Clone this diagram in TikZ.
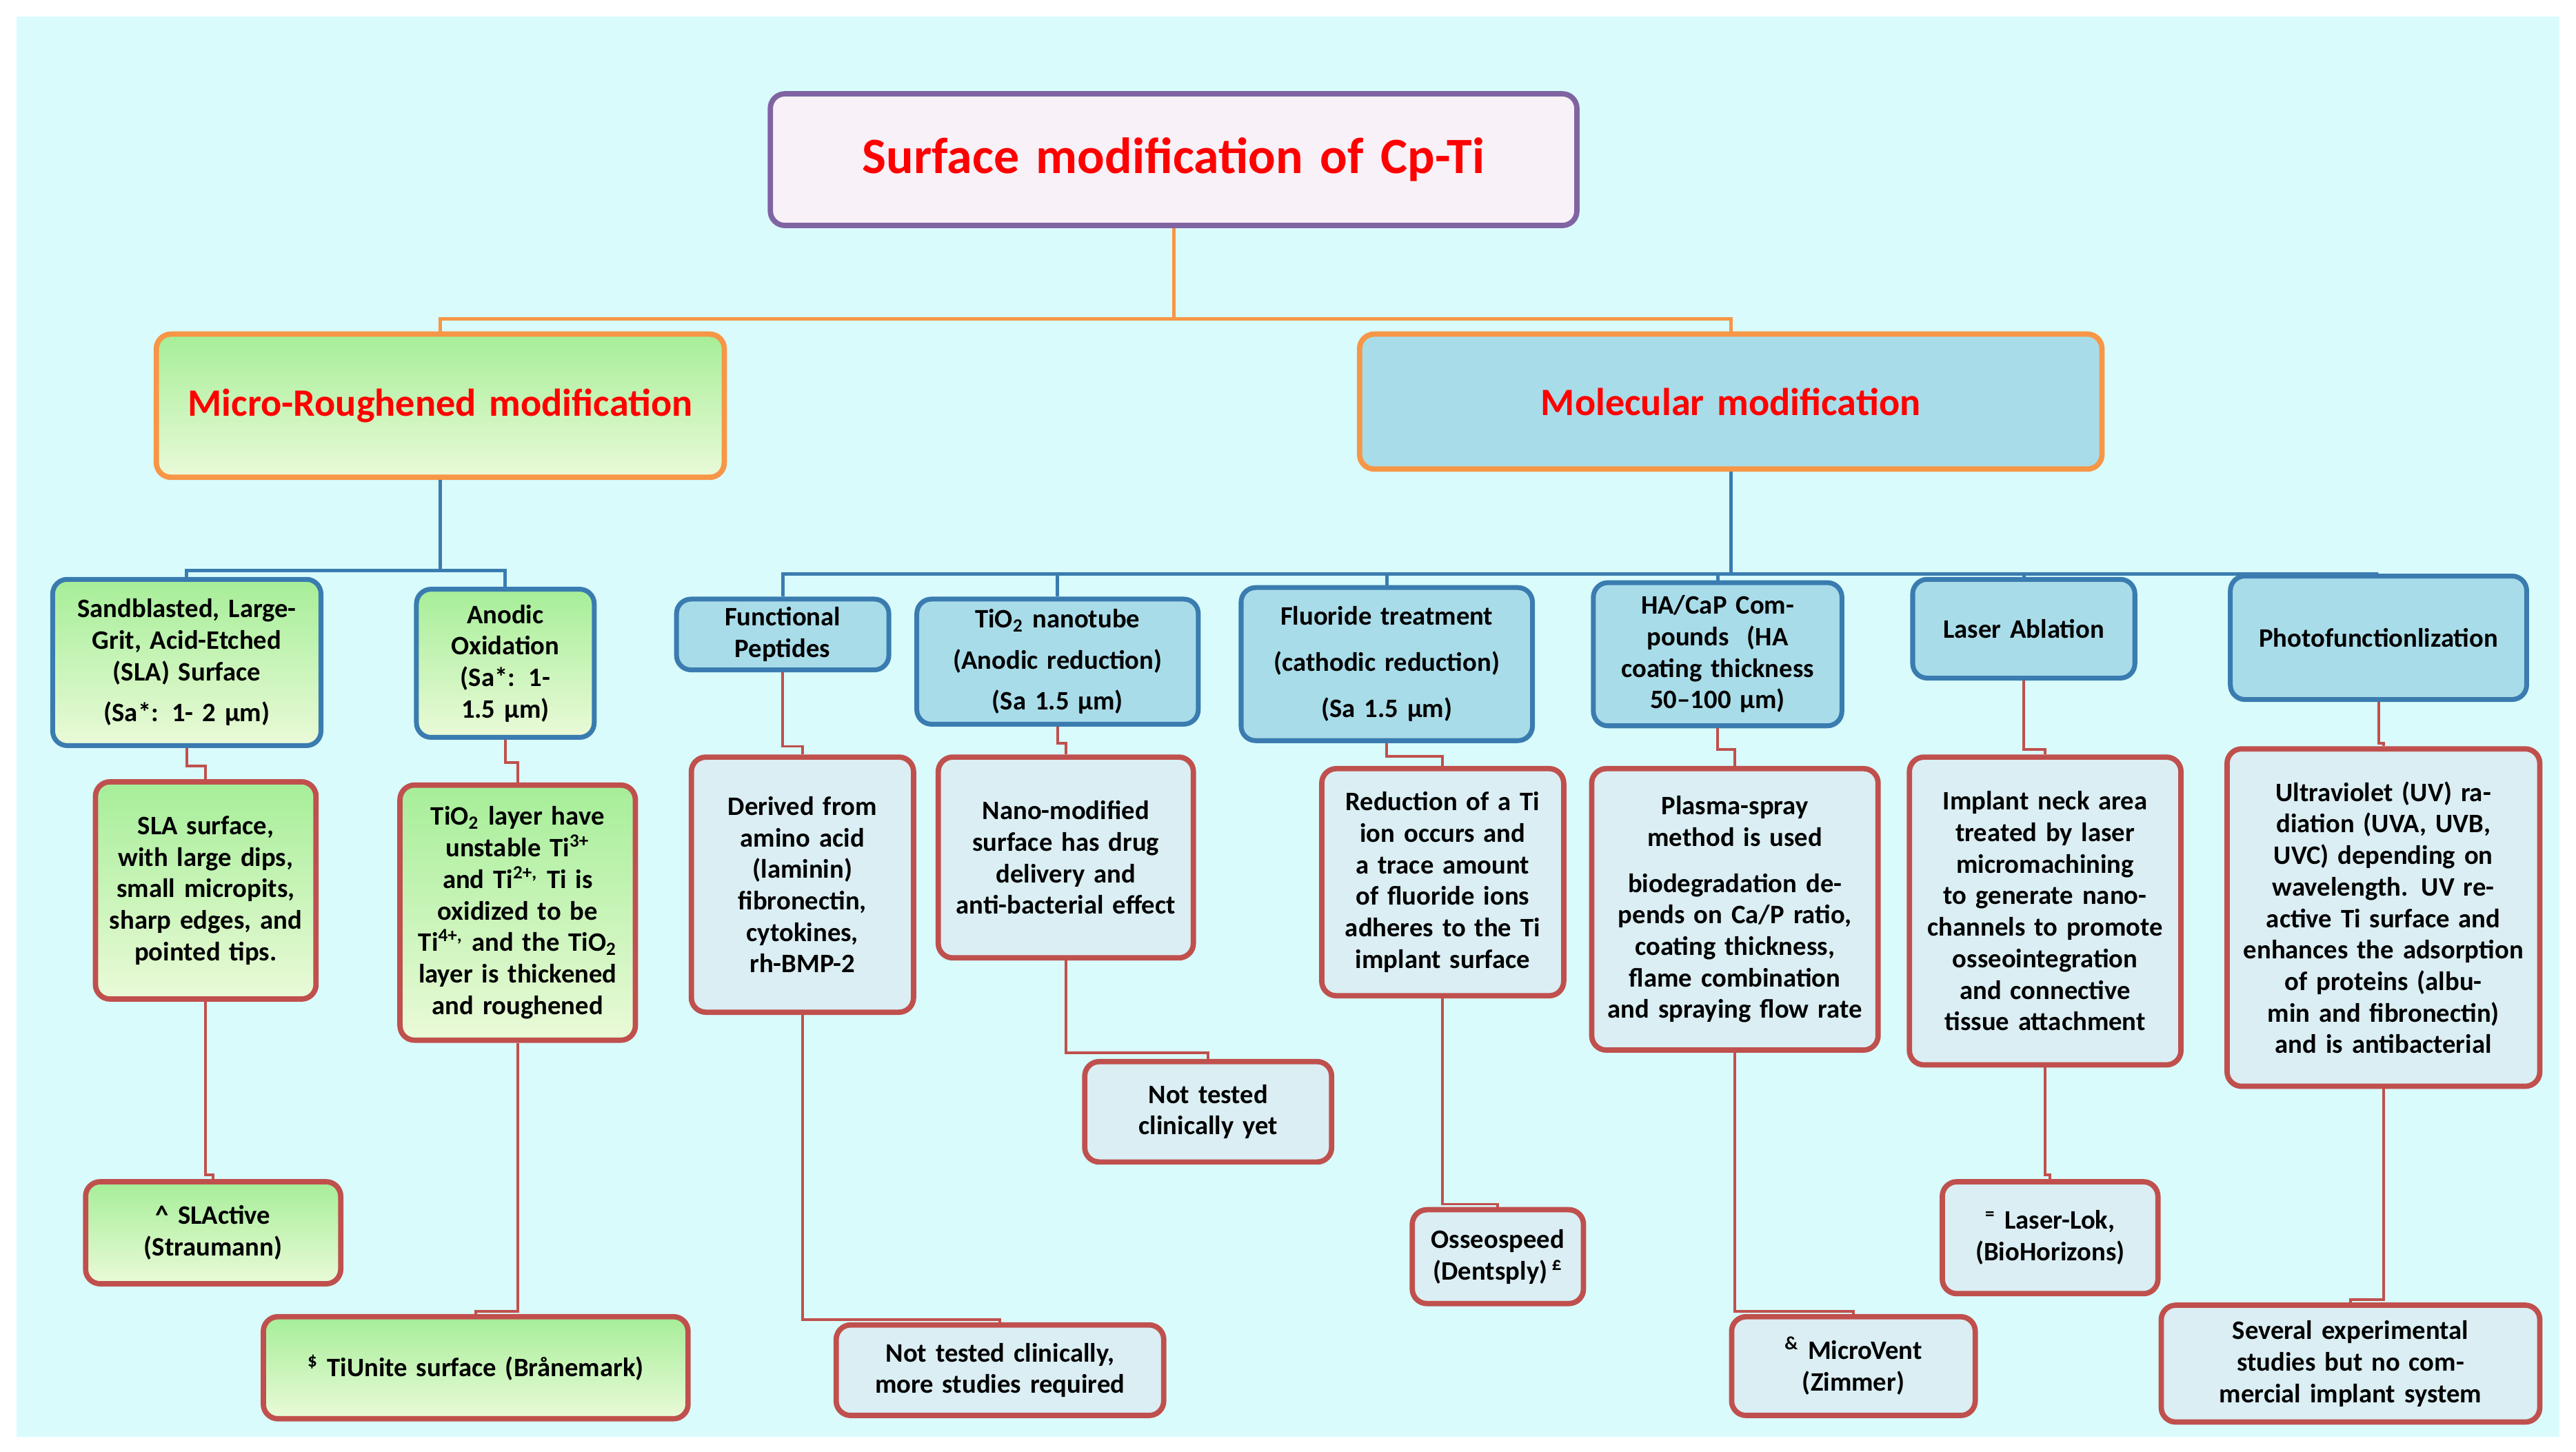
\documentclass[tikz,border=0pt]{standalone}
\usepackage{fontspec}
\setmainfont{Carlito}
\usepackage{xcolor}
\usetikzlibrary{positioning,shadings}

\definecolor{bgcyan}{HTML}{D9FBFC}
\definecolor{grtop}{HTML}{A6EE98}
\definecolor{grbot}{HTML}{EAFAD8}
\definecolor{bluefill}{HTML}{A9DCE9}
\definecolor{paleblue}{HTML}{DAEEF3}
\definecolor{redline}{HTML}{C0504D}
\definecolor{blueline}{HTML}{3A7CB0}
\definecolor{orangeline}{HTML}{F79646}
\definecolor{purpleline}{HTML}{8064A2}
\definecolor{titlefill}{HTML}{F8F1F8}

\def\u{0.02387cm}

\tikzset{
  sz/.style 2 args={minimum width=#1*\u, minimum height=#2*\u, text width=#1*\u-16*\u},
  base/.style={rectangle, rounded corners=6pt, align=center, inner sep=2pt,
    font=\fontsize{11}{13}\selectfont\bfseries},
  head/.style={base, line width=2.2pt, draw=orangeline, text=red,
    font=\fontsize{16}{19}\selectfont\bfseries},
  bluebox/.style={base, line width=2pt, draw=blueline, fill=bluefill},
  greenbox/.style={base, line width=2pt, draw=blueline, top color=grtop, bottom color=grbot},
  leafgreen/.style={base, line width=2.2pt, draw=redline, top color=grtop, bottom color=grbot},
  leafblue/.style={base, line width=2.2pt, draw=redline, fill=paleblue},
  oline/.style={orangeline, line width=1.4pt},
  bline/.style={blueline, line width=1.4pt},
  rline/.style={redline, line width=1.1pt}
}

\begin{document}
\begin{tikzpicture}[x=\u, y=-\u]

\useasboundingbox (0,0) rectangle (1565,882);
\fill[white] (0,0) rectangle (1565,882);
\fill[bgcyan] (10,10) rectangle (1555,873);

% Title and main branches
\node[base, sz={490}{80}, line width=2.2pt, draw=purpleline, fill=titlefill, text=red,
  font=\fontsize{21}{24}\selectfont\bfseries] (title) at (713,97) {Surface modification of Cp-Ti};
\node[head, sz={345}{87}, top color=grtop, bottom color=grbot] (micro) at (267.5,246.5) {Micro-Roughened modification};
\node[head, sz={451}{82}, fill=bluefill] (molec) at (1051.5,244) {Molecular modification};

% Second level
\node[greenbox, sz={163}{101}] (sla) at (113.5,402.5) {Sandblasted, Large-Grit, Acid-Etched (SLA) Surface\\[4pt](Sa*: 1- 2 µm)};
\node[greenbox, sz={108}{90}] (anod) at (307,403) {Anodic Oxidation (Sa*: 1- 1.5 µm)};
\node[bluebox, sz={129}{43}] (pep) at (475.5,385.5) {Functional Peptides};
\node[bluebox, sz={171}{76}] (tio) at (642.5,402) {TiO\textsubscript{2} nanotube\\[4pt](Anodic reduction)\\[4pt](Sa 1.5 µm)};
\node[bluebox, sz={177}{93}] (flu) at (842.5,403.5) {Fluoride treatment\\[6pt](cathodic reduction)\\[6pt](Sa 1.5 µm)};
\node[bluebox, sz={151}{87}] (hac) at (1043.5,397.5) {HA/CaP Compounds~ (HA coating thickness 50–100 µm)};
\node[bluebox, sz={135}{60}] (las) at (1229.5,382) {Laser Ablation};
\node[bluebox, sz={180}{75}] (pho) at (1445,387.5) {Photofunctionlization};

% Third level
\node[leafgreen, sz={134}{132}] (slas) at (125,541) {SLA surface, with large dips, small micropits, sharp edges, and pointed tips.};
\node[leafgreen, sz={143}{155}] (tiol) at (314.5,554.5) {TiO\textsubscript{2} layer have unstable Ti\textsuperscript{3+} and Ti\textsuperscript{2+,} Ti is oxidized to be Ti\textsuperscript{4+,} and the TiO\textsubscript{2} layer is thickened and roughened};
\node[leafblue, sz={135}{155}] (der) at (487.5,537.5) {Derived from amino acid (laminin) fibronectin, cytokines, rh-BMP-2};
\node[leafblue, sz={155}{122}] (nan) at (647.5,521) {Nano-modified surface has drug delivery and anti-bacterial effect};
\node[leafblue, sz={147}{138}] (red) at (876.5,536) {Reduction of a Ti ion occurs and a trace amount of fluoride ions adheres to the Ti implant surface};
\node[leafblue, sz={174}{171}] (pla) at (1054,552.5) {Plasma-spray method is used\\[6pt]biodegradation depends on Ca/P ratio, coating thickness, flame combination and spraying flow rate};
\node[leafblue, sz={165}{187}] (imp) at (1242.5,553.5) {Implant neck area treated by laser micromachining to generate nano-channels to promote osseointegration and connective tissue attachment};
\node[leafblue, sz={190}{205}] (uv) at (1448,557.5) {Ultraviolet (UV) radiation (UVA, UVB, UVC) depending on wavelength. UV reactive Ti surface and enhances the adsorption of proteins (albumin and fibronectin) and is antibacterial};

% Fourth level
\node[leafgreen, sz={155}{62}] (slac) at (129.5,749) {\textasciicircum\ SLActive\\(Straumann)};
\node[leafgreen, sz={258}{62}] (tiu) at (289,831) {\textsuperscript{\$} TiUnite surface (Brånemark)};
\node[leafblue, sz={199}{55}] (ntc) at (607.5,832.5) {Not tested clinically,\\more studies required};
\node[leafblue, sz={150}{61}] (nty) at (734,675.5) {Not tested\\clinically yet};
\node[leafblue, sz={104}{57}] (oss) at (910,763.5) {Osseospeed\\(Dentsply)\,\textsuperscript{£}};
\node[leafblue, sz={148}{60}] (mic) at (1126,830) {\textsuperscript{\&} MicroVent\\(Zimmer)};
\node[leafblue, sz={131}{68}] (llk) at (1245.5,752) {\textsuperscript{=} Laser-Lok,\\(BioHorizons)};
\node[leafblue, sz={230}{71}] (sev) at (1428,828.5) {Several experimental studies but no commercial implant system};

% Connectors
\draw[oline] (title.south) -- ++(0,55) -| (micro.north);
\draw[oline] (title.south) -- ++(0,55) -| (molec.north);

\foreach \c in {sla,anod}
  \draw[bline] (micro.south) -- ++(0,55) -| (\c.north);
\foreach \c in {pep,tio,flu,hac,las,pho}
  \draw[bline] (molec.south) -- ++(0,62) -| (\c.north);

\draw[rline] (sla.south) -- ++(0,11) -| (slas.north);
\draw[rline] (anod.south) -- ++(0,14) -| (tiol.north);
\draw[rline] (pep.south) -- ++(0,45) -| (der.north);
\draw[rline] (tio.south) -- ++(0,10) -| (nan.north);
\draw[rline] (flu.south) -- ++(0,8) -| (red.north);
\draw[rline] (hac.south) -- ++(0,13) -| (pla.north);
\draw[rline] (las.south) -- ++(0,42) -| (imp.north);
\draw[rline] (pho.south) -- ++(0,25) -| (uv.north);

\draw[rline] (slas.south) -- ++(0,105) -| (slac.north);
\draw[rline] (tiol.south) -- ++(0,163) -| (tiu.north);
\draw[rline] (der.south) -- ++(0,185) -| (ntc.north);
\draw[rline] (nan.south) -- ++(0,56) -| (nty.north);
\draw[rline] (red.south) -- ++(0,125) -| (oss.north);
\draw[rline] (pla.south) -- ++(0,157) -| (mic.north);
\draw[rline] (imp.south) -- ++(0,65) -| (llk.north);
\draw[rline] (uv.south) -- ++(0,128) -| (sev.north);

\end{tikzpicture}
\end{document}
